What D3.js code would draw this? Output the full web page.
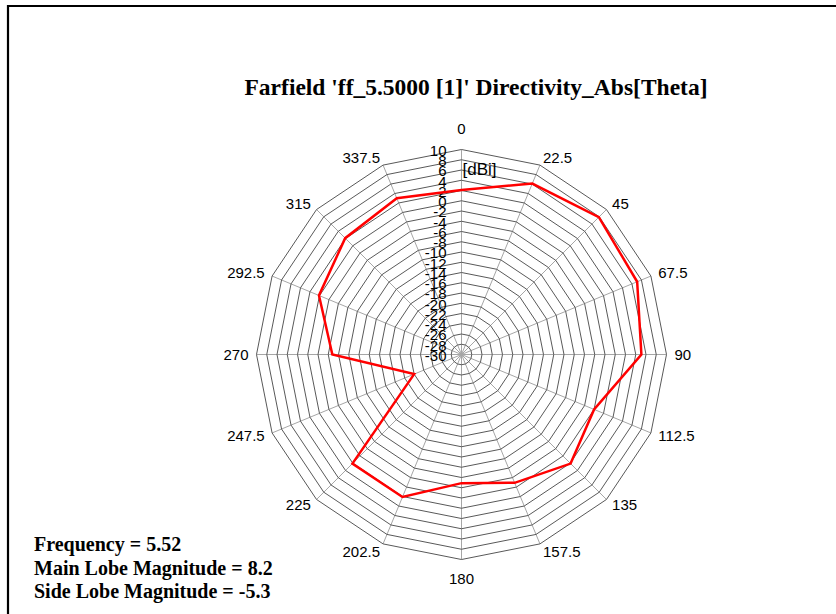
<!DOCTYPE html>
<html>
<head>
<meta charset="utf-8">
<script src="https://cdn.jsdelivr.net/npm/d3@7"></script>
<style>
  html, body { margin: 0; padding: 0; background: #fff; }
  svg { display: block; }
</style>
</head>
<body>
<svg id="chart" width="836" height="614"></svg>
<script>
// Theta angles (degrees) of the radar spokes
const thetaLabels = ["0", "22.5", "45", "67.5", "90", "112.5", "135", "157.5",
                     "180", "202.5", "225", "247.5", "270", "292.5", "315", "337.5"];
const thetaDeg = [0, 22.5, 45, 67.5, 90, 112.5, 135, 157.5,
                  180, 202.5, 225, 247.5, 270, 292.5, 315, 337.5];
// Directivity (dBi) at each theta
const directivity = [2.1, 6.1, 7.9, 7.1, 5.1, -2.0, 0.1, -2.9,
                     -4.9, 0.1, 0.1, -20.0, -4.8, 0.1, 2.1, 3.0];
// Radial axis ticks
const radialTicks = d3.range(-30, 11, 2);
const titleText = "Farfield 'ff_5.5000 [1]' Directivity_Abs[Theta]";
const infoLines = ["Frequency = 5.52", "Main Lobe Magnitude = 8.2", "Side Lobe Magnitude = -5.3"];

const svg = d3.select("#chart");
const cx = 461.5, cy = 354.5, R = 205;
const sansFont = "Liberation Sans, Arial, sans-serif";
const serifFont = "Liberation Serif, Times New Roman, serif";

// Frame around the chart area
svg.append("path")
  .attr("d", "M8,614 L8,6 L836,6")
  .attr("fill", "none").attr("stroke", "#000").attr("stroke-width", 2.2);

const rScale = d3.scaleLinear().domain([-30, 10]).range([0, R]);
const aScale = d3.scaleLinear().domain([0, 360]).range([0, 2 * Math.PI]);

const g = svg.append("g").attr("transform", `translate(${cx},${cy})`);

// Spokes
g.selectAll("line.spoke").data(thetaDeg).join("line")
  .attr("class", "spoke")
  .attr("x1", 0).attr("y1", 0)
  .attr("x2", d => R * Math.sin(aScale(d)))
  .attr("y2", d => -R * Math.cos(aScale(d)))
  .attr("stroke", "#a6a6a6").attr("stroke-width", 1);

// Concentric polygon gridlines
const ringLine = d3.lineRadial()
  .angle(d => aScale(d.a))
  .radius(d => rScale(d.v))
  .curve(d3.curveLinearClosed);

g.selectAll("path.ring").data(radialTicks.filter(v => v > -30)).join("path")
  .attr("class", "ring")
  .attr("d", v => ringLine(thetaDeg.map(a => ({ a, v }))))
  .attr("fill", "none")
  .attr("stroke", "#595959")
  .attr("stroke-width", 1);

// Radial tick labels
g.selectAll("text.rtick").data(radialTicks).join("text")
  .attr("class", "rtick")
  .attr("x", -15)
  .attr("y", v => -rScale(v) + 1)
  .attr("dy", "0.35em")
  .attr("text-anchor", "end")
  .attr("font-family", sansFont)
  .attr("font-size", 15)
  .attr("fill", "#000")
  .text(v => v);

// Unit label
g.append("text")
  .attr("x", 1).attr("y", -rScale(10) + 20)
  .attr("dy", "0.35em")
  .attr("font-family", sansFont)
  .attr("font-size", 17)
  .attr("fill", "#000")
  .text("[dBi]");

// Angle labels, placed just outside each outer vertex
const gap = 8;
g.selectAll("text.alabel").data(thetaDeg).join("text")
  .attr("class", "alabel")
  .each(function (d, i) {
    const s = Math.sin(aScale(d)), c = Math.cos(aScale(d));
    let x = (R + gap) * s, y = -(R + gap) * c;
    let anchor = "middle";
    if (s > 0.1) anchor = "start";
    else if (s < -0.1) anchor = "end";
    else y += c > 0 ? -12.5 : 11.5;
    d3.select(this)
      .attr("x", x).attr("y", y)
      .attr("dy", "0.35em")
      .attr("text-anchor", anchor)
      .text(thetaLabels[i]);
  })
  .attr("font-family", sansFont)
  .attr("font-size", 15)
  .attr("fill", "#000");

// Directivity trace
const dataLine = d3.lineRadial()
  .angle(d => aScale(d.a))
  .radius(d => rScale(d.v))
  .curve(d3.curveLinearClosed);

g.append("path")
  .attr("d", dataLine(thetaDeg.map((a, i) => ({ a, v: directivity[i] }))))
  .attr("fill", "none")
  .attr("stroke", "#ff0000")
  .attr("stroke-width", 2.5)
  .attr("stroke-linejoin", "miter");

// Title
svg.append("text")
  .attr("x", 476).attr("y", 95)
  .attr("text-anchor", "middle")
  .attr("font-family", serifFont)
  .attr("font-weight", "bold")
  .attr("font-size", 23.5)
  .attr("fill", "#000")
  .text(titleText);

// Summary text
svg.selectAll("text.info").data(infoLines).join("text")
  .attr("class", "info")
  .attr("x", 34)
  .attr("y", (d, i) => 551 + i * 23.5)
  .attr("font-family", serifFont)
  .attr("font-weight", "bold")
  .attr("font-size", 20)
  .attr("fill", "#000")
  .text(d => d);
</script>
</body>
</html>
